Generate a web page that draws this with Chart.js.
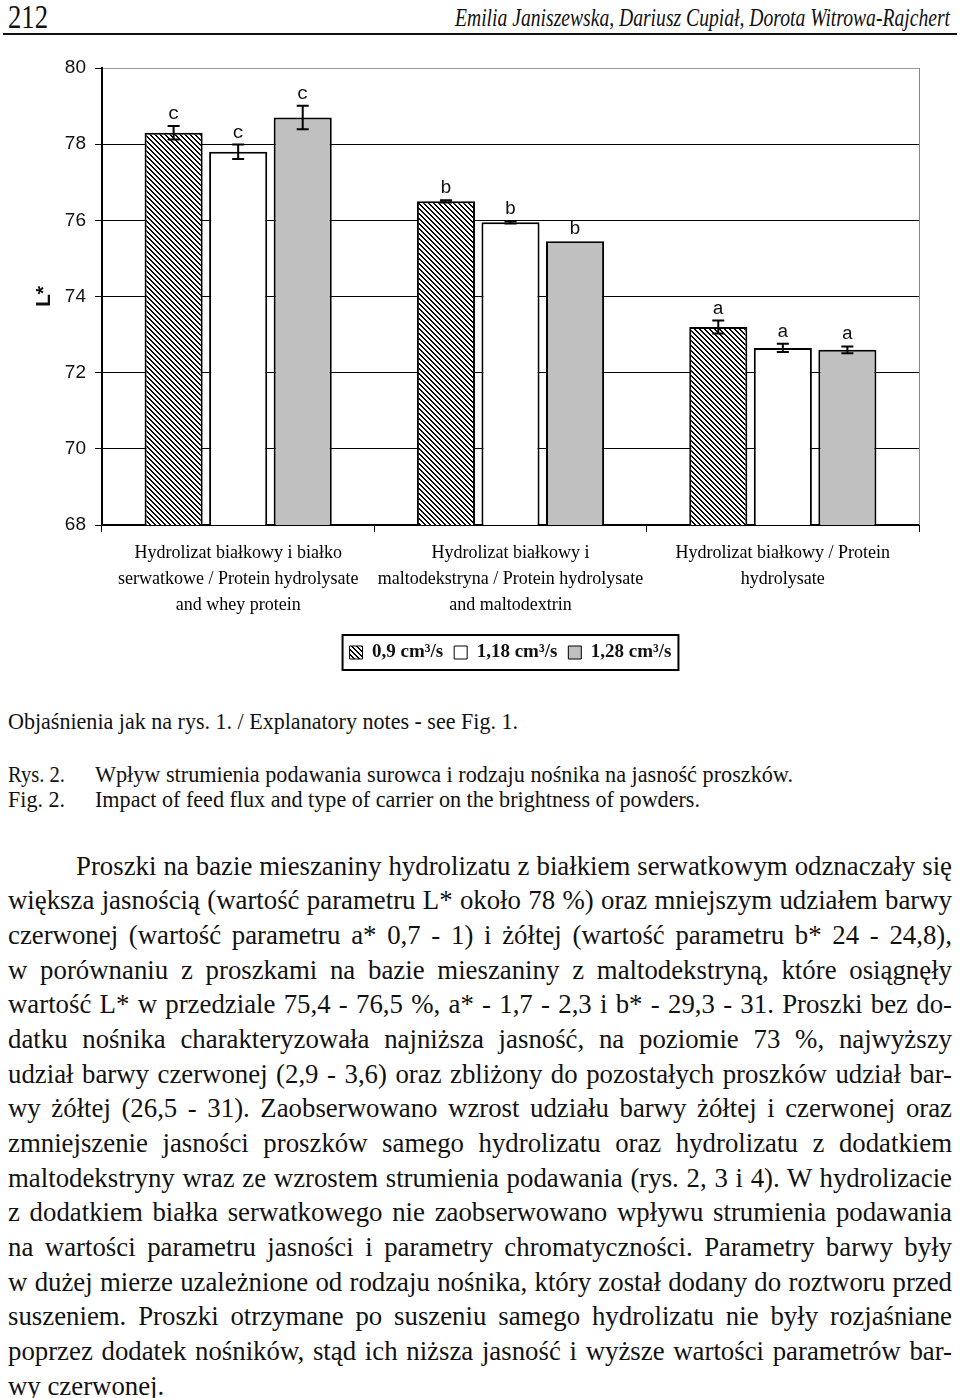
<!DOCTYPE html>
<html lang="pl">
<head>
<meta charset="UTF-8">
<title>Rys. 2 - jasność proszków</title>
<script src="https://cdn.jsdelivr.net/npm/chart.js@4.4.1/dist/chart.umd.min.js"></script>
<style>
  body { margin: 0; background: #fff; }
  #page { position: relative; width: 960px; height: 1398px; overflow: hidden; color: #111;
          font-family: "Liberation Serif", "Times New Roman", serif; }
  .t { position: absolute; white-space: nowrap; transform-origin: 0 50%; }
  #rule { position: absolute; left: 3px; width: 954px; top: 33px; height: 2px; background: #111; }
  #chartBox { position: absolute; left: 0; top: 40px; }
  #body { position: absolute; left: 8px; top: 848.7px; width: 944px; font-size: 26.8px; line-height: 34.67px; }
  #body div { text-align: justify; text-align-last: justify; }
  #body div.first { text-indent: 68px; }
  #body div.last { text-align-last: left; }
</style>
</head>
<body>
<div id="page">
  <div class="t" data-w="40" style="left:8px; top:0px; font-size:34px; line-height:34px;">212</div>
  <div class="t" data-w="495" style="left:455px; top:5px; font-size:25px; line-height:25px; font-style:italic;">Emilia Janiszewska, Dariusz Cupiał, Dorota Witrowa-Rajchert</div>
  <div id="rule"></div>

  <div id="chartBox"><canvas id="brightChart" width="960" height="640"></canvas></div>

  <div class="t" data-w="510" style="left:8px; top:710px; font-size:23px; line-height:23px;">Objaśnienia jak na rys. 1. / Explanatory notes - see Fig. 1.</div>
  <div class="t" data-w="57" style="left:8px; top:763px; font-size:23px; line-height:23px;">Rys. 2.</div>
  <div class="t" data-w="698" style="left:95px; top:763px; font-size:23px; line-height:23px;">Wpływ strumienia podawania surowca i rodzaju nośnika na jasność proszków.</div>
  <div class="t" data-w="57" style="left:8px; top:788px; font-size:23px; line-height:23px;">Fig. 2.</div>
  <div class="t" data-w="605" style="left:95px; top:788px; font-size:23px; line-height:23px;">Impact of feed flux and type of carrier on the brightness of powders.</div>

  <div id="body">
    <div class="first">Proszki na bazie mieszaniny hydrolizatu z białkiem serwatkowym odznaczały się</div>
    <div>większa jasnością (wartość parametru L* około 78 %) oraz mniejszym udziałem barwy</div>
    <div>czerwonej (wartość parametru a* 0,7 - 1) i żółtej (wartość parametru b* 24 - 24,8),</div>
    <div>w porównaniu z proszkami na bazie mieszaniny z maltodekstryną, które osiągnęły</div>
    <div>wartość L* w przedziale 75,4 - 76,5 %, a* - 1,7 - 2,3 i b* - 29,3 - 31. Proszki bez do-</div>
    <div>datku nośnika charakteryzowała najniższa jasność, na poziomie 73 %, najwyższy</div>
    <div>udział barwy czerwonej (2,9 - 3,6) oraz zbliżony do pozostałych proszków udział bar-</div>
    <div>wy żółtej (26,5 - 31). Zaobserwowano wzrost udziału barwy żółtej i czerwonej oraz</div>
    <div>zmniejszenie jasności proszków samego hydrolizatu oraz hydrolizatu z dodatkiem</div>
    <div>maltodekstryny wraz ze wzrostem strumienia podawania (rys. 2, 3 i 4). W hydrolizacie</div>
    <div>z dodatkiem białka serwatkowego nie zaobserwowano wpływu strumienia podawania</div>
    <div>na wartości parametru jasności i parametry chromatyczności. Parametry barwy były</div>
    <div>w dużej mierze uzależnione od rodzaju nośnika, który został dodany do roztworu przed</div>
    <div>suszeniem. Proszki otrzymane po suszeniu samego hydrolizatu nie były rozjaśniane</div>
    <div>poprzez dodatek nośników, stąd ich niższa jasność i wyższe wartości parametrów bar-</div>
    <div class="last">wy czerwonej.</div>
  </div>
</div>

<script>
// squeeze the caption lines to the width they have on the scan
document.querySelectorAll('.t[data-w]').forEach(function (el) {
    var natural = el.getBoundingClientRect().width;
    el.style.transform = 'scaleX(' + (parseFloat(el.dataset.w) / natural) + ')';
});

// --- data ---
var carriers = [
    ['Hydrolizat białkowy i białko', 'serwatkowe / Protein hydrolysate', 'and whey protein'],
    ['Hydrolizat białkowy i', 'maltodekstryna / Protein hydrolysate', 'and maltodextrin'],
    ['Hydrolizat białkowy / Protein', 'hydrolysate']
];
var fluxLabels = ['0,9 cm³/s', '1,18 cm³/s', '1,28 cm³/s'];
var lFlux09  = [78.3, 76.5, 73.2];
var lFlux118 = [77.8, 75.95, 72.65];
var lFlux128 = [78.7, 75.45, 72.6];
var errFlux09  = [0.18, 0.03, 0.17];
var errFlux118 = [0.19, 0.03, 0.11];
var errFlux128 = [0.31, 0.0, 0.09];
var groupLetters = ['c', 'b', 'a'];
var yTicks = [68, 70, 72, 74, 76, 78, 80];

var errors = [errFlux09, errFlux118, errFlux128];

var ctx = document.getElementById('brightChart').getContext('2d');

// diagonal hatch for the 0,9 cm3/s series
function makeHatch() {
    var c = document.createElement('canvas');
    c.width = 5; c.height = 5;
    var g = c.getContext('2d');
    g.fillStyle = '#fff';
    g.fillRect(0, 0, 5, 5);
    g.fillStyle = '#000';
    for (var i = 0; i < 5; i++) {
        g.fillRect(i, i, 1, 1);
        g.fillRect((i + 1) % 5, i, 1, 1);
    }
    return ctx.createPattern(c, 'repeat');
}
var hatch = makeHatch();

var extras = {
    id: 'extras',
    afterDatasetsDraw: function (chart) {
        var c = chart.ctx, y = chart.scales.y;
        c.save();
        chart.data.datasets.forEach(function (ds, i) {
            chart.getDatasetMeta(i).data.forEach(function (bar, j) {
                var v = ds.data[j], e = errors[i][j];
                var top = y.getPixelForValue(v + e), bot = y.getPixelForValue(v - e);
                c.strokeStyle = '#000';
                c.lineWidth = 2;
                if (e > 0) {
                    c.beginPath();
                    c.moveTo(bar.x, top); c.lineTo(bar.x, bot);
                    c.moveTo(bar.x - 6, top); c.lineTo(bar.x + 6, top);
                    c.moveTo(bar.x - 6, bot); c.lineTo(bar.x + 6, bot);
                    c.stroke();
                }
                c.fillStyle = '#111';
                c.font = '19px "Liberation Mono", monospace';
                c.textAlign = 'center';
                c.textBaseline = 'middle';
                c.fillText(groupLetters[j], bar.x, top - 12);
            });
        });
        c.restore();
    },
    afterDraw: function (chart) {
        var c = chart.ctx, a = chart.chartArea;
        c.save();
        // grey frame on the right
        c.strokeStyle = '#888';
        c.lineWidth = 1;
        c.beginPath();
        c.moveTo(a.right + 0.5, a.top);
        c.lineTo(a.right + 0.5, a.bottom);
        c.stroke();
        // box round the legend
        var boxes = chart.legend.legendHitBoxes;
        if (boxes && boxes.length) {
            var l = Math.min.apply(null, boxes.map(function (b) { return b.left; }));
            var r = Math.max.apply(null, boxes.map(function (b) { return b.left + b.width; }));
            var t = boxes[0].top, h = boxes[0].height;
            c.strokeStyle = '#000';
            c.lineWidth = 2;
            c.strokeRect(l - 7, t - 8, r - l + 14, h + 16);
        }
        c.restore();
    }
};

var brightChart = new Chart(ctx, {
    type: 'bar',
    data: {
        labels: carriers,
        datasets: [{
            label: fluxLabels[0],
            data: lFlux09,
            backgroundColor: hatch,
            borderColor: '#000',
            borderWidth: 2
        }, {
            label: fluxLabels[1],
            data: lFlux118,
            backgroundColor: '#fff',
            borderColor: '#000',
            borderWidth: 2
        }, {
            label: fluxLabels[2],
            data: lFlux128,
            backgroundColor: '#c0c0c0',
            borderColor: '#000',
            borderWidth: 2
        }]
    },
    options: {
        responsive: false,
        animation: false,
        categoryPercentage: 0.711,
        barPercentage: 0.9,
        layout: { padding: { top: 28, right: 41, left: 0, bottom: 8 } },
        plugins: {
            tooltip: { enabled: false },
            legend: {
                position: 'bottom',
                fullSize: false,
                labels: {
                    boxWidth: 13,
                    boxHeight: 13,
                    padding: 11,
                    color: '#111',
                    font: { family: '"Liberation Serif", serif', size: 19, weight: 'bold' },
                    generateLabels: function (chart) {
                        return chart.data.datasets.map(function (ds, i) {
                            return {
                                text: ds.label,
                                fillStyle: ds.backgroundColor,
                                strokeStyle: '#000',
                                lineWidth: 1,
                                fontColor: '#111',
                                hidden: false,
                                datasetIndex: i
                            };
                        });
                    }
                }
            }
        },
        scales: {
            x: {
                grid: { drawOnChartArea: false, tickLength: 7, color: '#000', offset: true },
                border: { color: '#000', width: 2 },
                ticks: {
                    padding: 8,
                    maxRotation: 0,
                    autoSkip: false,
                    color: '#000',
                    font: { family: '"Liberation Serif", serif', size: 18, lineHeight: 1.45 }
                },
                afterFit: function (scale) { scale.height = 107; }
            },
            y: {
                min: 68,
                max: 80,
                afterBuildTicks: function (scale) {
                    scale.ticks = yTicks.map(function (v) { return { value: v }; });
                },
                grid: {
                    tickLength: 7,
                    tickColor: '#000',
                    color: function (c) { return c.tick && c.tick.value === 80 ? '#999' : '#000'; }
                },
                border: { color: '#000', width: 2 },
                ticks: {
                    padding: 9,
                    color: '#111',
                    font: { family: '"Liberation Sans", Arial, sans-serif', size: 19 }
                },
                title: {
                    display: true,
                    text: 'L*',
                    color: '#111',
                    padding: { top: 32, bottom: 0 },
                    font: { family: '"Liberation Sans", Arial, sans-serif', size: 21, weight: 'bold' }
                },
                afterFit: function (scale) { scale.width = 102; }
            }
        }
    },
    plugins: [extras]
});
</script>
</body>
</html>
